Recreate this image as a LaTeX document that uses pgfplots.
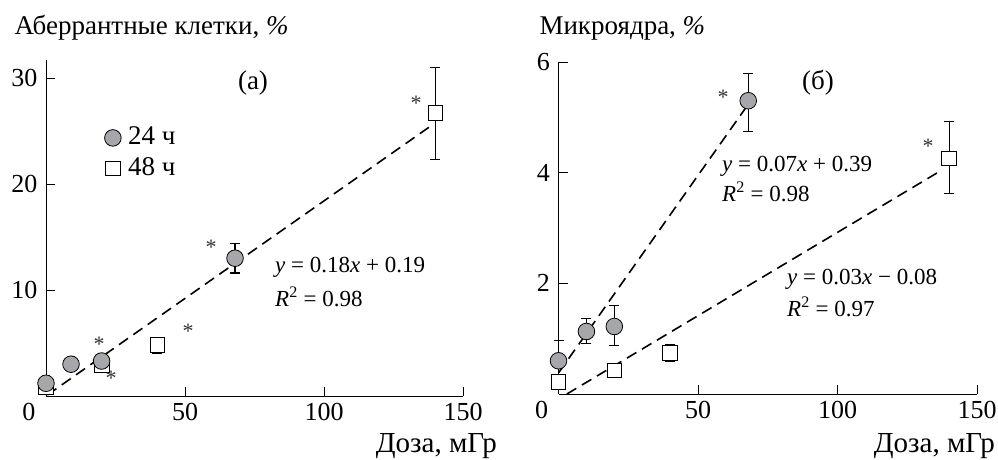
\documentclass[border=0pt]{standalone}
\usepackage{fontspec}
\setmainfont{Liberation Serif}
\usepackage{pgfplots}
\pgfplotsset{compat=1.18}
\definecolor{mygray}{RGB}{165,167,170}
\begin{document}
\fontsize{25}{30}\selectfont
\begin{tikzpicture}[x=1pt,y=1pt]
\path (0,0) rectangle (998,460);
\pgfplotsset{
 myax/.style={scale only axis, axis lines=left, axis line style={-, line width=0.9pt},
   tick align=inside, major tick length=9pt, tick style={line width=0.9pt, black},
   xmin=0, xmax=150, xtick={50,100,150}, extra x ticks={0},
   extra x tick style={major tick length=0pt, tick label style={xshift=-17pt}},
   x tick label style={yshift=-6pt, inner sep=1pt},
   ymin=0, /pgf/number format/assume math mode=true,
   tick label style={font=\fontsize{26}{30}\selectfont}, clip=false},
 c24/.style={only marks, mark=*, mark size=8.3pt, mark options={fill=mygray, draw=black, line width=0.8pt}},
 s48/.style={only marks, mark=square*, mark size=7.3pt, mark options={fill=white, draw=black, line width=0.8pt}},
 eb/.style={/pgfplots/error bars/y dir=both, /pgfplots/error bars/y explicit,
   /pgfplots/error bars/error mark=-,
   /pgfplots/error bars/error bar style={line width=1.1pt, black},
   /pgfplots/error bars/error mark options={rotate=90, line width=1.1pt, mark size=5pt, black}},
 fitl/.style={black, line width=1.6pt, dash pattern=on 11pt off 6.5pt},
}
% ---------- panel (a) ----------
\begin{axis}[myax, at={(46pt,64pt)}, anchor=south west, width=417pt, height=336pt,
  ymax=31.7, ytick={10,20,30},
  legend style={draw=none, fill=none, inner sep=0pt, anchor=west, at={(axis cs:21,22.9)},
    font=\fontsize{27}{30}\selectfont, row sep=9pt, legend cell align=left,
    nodes={inner sep=0pt, inner xsep=7pt}}]
\addlegendimage{c24}\addlegendentry{24 ч}
\addlegendimage{s48}\addlegendentry{48 ч}
\addplot[fitl, forget plot] coordinates {(0.5,0.1) (138,25.4)};
\addplot[forget plot, s48, eb] table[x=x, y=y, y error plus=ep, y error minus=em] {
x y ep em
0 0.85 0 0
20 2.9 0 0
40 4.8 0.75 0.75
140 26.7 4.3 4.4
};
\addplot[forget plot, c24, eb] table[x=x, y=y, y error plus=ep, y error minus=em] {
x y ep em
0 1.2 0 0
9 3.0 0 0
20 3.3 0 0
68 13.0 1.4 1.4
};
\end{axis}
% ---------- panel (b) ----------
\begin{axis}[myax, at={(558.5pt,66pt)}, anchor=south west, width=418.5pt, height=332pt,
  ymax=6, ytick={2,4,6}]
\addplot[fitl] coordinates {(0,0.38) (67.5,5.2)};
\addplot[fitl] coordinates {(3,0) (137.5,4.05)};
\addplot[s48, eb] table[x=x, y=y, y error plus=ep, y error minus=em] {
x y ep em
0 0.22 0 0
20 0.43 0 0
40 0.74 0.15 0.16
140 4.26 0.66 0.64
};
\addplot[c24, eb] table[x=x, y=y, y error plus=ep, y error minus=em] {
x y ep em
0 0.60 0.36 0
10 1.13 0.23 0.21
20 1.22 0.38 0.35
68 5.30 0.50 0.55
};
\end{axis}
% ---------- texts ----------
\node[anchor=west, font=\fontsize{27}{30}\selectfont] at (6,432) {Аберрантные клетки, \textit{\%}};
\node[anchor=west, font=\fontsize{27}{30}\selectfont] at (531,432) {Микроядра, \textit{\%}};
\node[anchor=base east, font=\fontsize{29}{30}\selectfont, inner sep=0pt] at (497,7) {Доза, мГр};
\node[anchor=base east, font=\fontsize{29}{30}\selectfont, inner sep=0pt] at (995,7) {Доза, мГр};
\node[font=\fontsize{27}{30}\selectfont] at (253,377) {(а)};
\node[font=\fontsize{27}{30}\selectfont] at (818,377) {(б)};
\begin{scope}[every node/.style={anchor=west, font=\fontsize{23}{24}\selectfont, inner sep=0pt}]
\node at (275,193) {\textit{y} = 0.18\textit{x} + 0.19};
\node at (275,163) {\textit{R}\textsuperscript{2} = 0.98};
\node at (722,294) {\textit{y} = 0.07\textit{x} + 0.39};
\node at (722,268) {\textit{R}\textsuperscript{2} = 0.98};
\node at (787,181) {\textit{y} = 0.03\textit{x} − 0.08};
\node at (787,153) {\textit{R}\textsuperscript{2} = 0.97};
\end{scope}
\begin{scope}[every node/.style={anchor=base, font=\fontsize{22}{24}\selectfont, inner sep=0pt, text=black!80}]
\node at (99,108) {*};
\node at (111,74) {*};
\node at (188,121) {*};
\node at (211,205) {*};
\node at (416,349) {*};
\node at (723,355) {*};
\node at (928,306) {*};
\end{scope}
\end{tikzpicture}
\end{document}
